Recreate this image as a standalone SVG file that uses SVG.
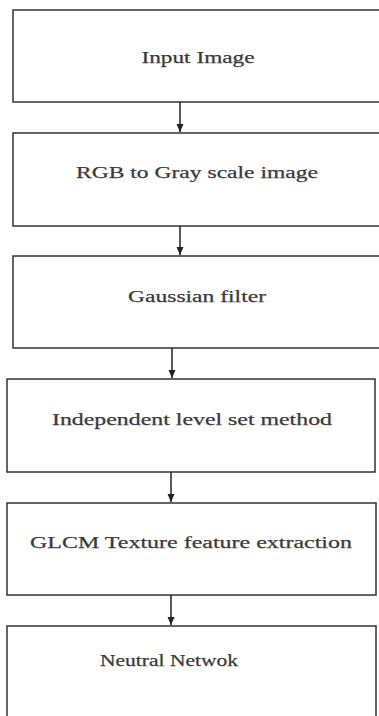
<svg xmlns="http://www.w3.org/2000/svg" width="379" height="716" viewBox="0 0 379 716">
<style>
.box{fill:#fff;stroke:#333;stroke-width:1.5}
.lbl{font-family:"Liberation Serif","Times New Roman",serif;font-size:17px;fill:#3a3a3a;stroke:#3a3a3a;stroke-width:0.25;text-anchor:middle}
.conn{stroke:#222;stroke-width:1.5;fill:none}
</style>
<defs>
<marker id="ah" viewBox="0 0 8 8" refX="8" refY="4" markerWidth="8" markerHeight="8" markerUnits="userSpaceOnUse" orient="auto">
<path d="M0,0.5 L8,4 L0,7.5 Z" fill="#222"/>
</marker>
</defs>
<rect width="379" height="716" fill="#fff"/>
<g id="n1"><rect class="box" x="13" y="10" width="380" height="92"/><text class="lbl" x="198" y="63" textLength="113" lengthAdjust="spacingAndGlyphs">Input Image</text></g>
<g id="n2"><rect class="box" x="13" y="133" width="380" height="93"/><text class="lbl" x="197" y="178" textLength="242" lengthAdjust="spacingAndGlyphs">RGB to Gray scale image</text></g>
<g id="n3"><rect class="box" x="13" y="256" width="380" height="92"/><text class="lbl" x="197" y="302" textLength="138" lengthAdjust="spacingAndGlyphs">Gaussian filter</text></g>
<g id="n4"><rect class="box" x="7" y="379" width="368" height="93"/><text class="lbl" x="192" y="425" textLength="280" lengthAdjust="spacingAndGlyphs">Independent level set method</text></g>
<g id="n5"><rect class="box" x="7" y="503" width="369" height="92"/><text class="lbl" x="191" y="548" textLength="322" lengthAdjust="spacingAndGlyphs">GLCM Texture feature extraction</text></g>
<g id="n6"><rect class="box" x="7" y="626" width="369" height="100"/><text class="lbl" x="169" y="666" textLength="138" lengthAdjust="spacingAndGlyphs">Neutral Netwok</text></g>
<g id="connectors">
<line class="conn" x1="180" y1="102" x2="180" y2="132" marker-end="url(#ah)"/>
<line class="conn" x1="180" y1="226" x2="180" y2="255" marker-end="url(#ah)"/>
<line class="conn" x1="172" y1="348" x2="172" y2="378" marker-end="url(#ah)"/>
<line class="conn" x1="171" y1="472" x2="171" y2="502" marker-end="url(#ah)"/>
<line class="conn" x1="171" y1="595" x2="171" y2="625" marker-end="url(#ah)"/>
</g>
</svg>
